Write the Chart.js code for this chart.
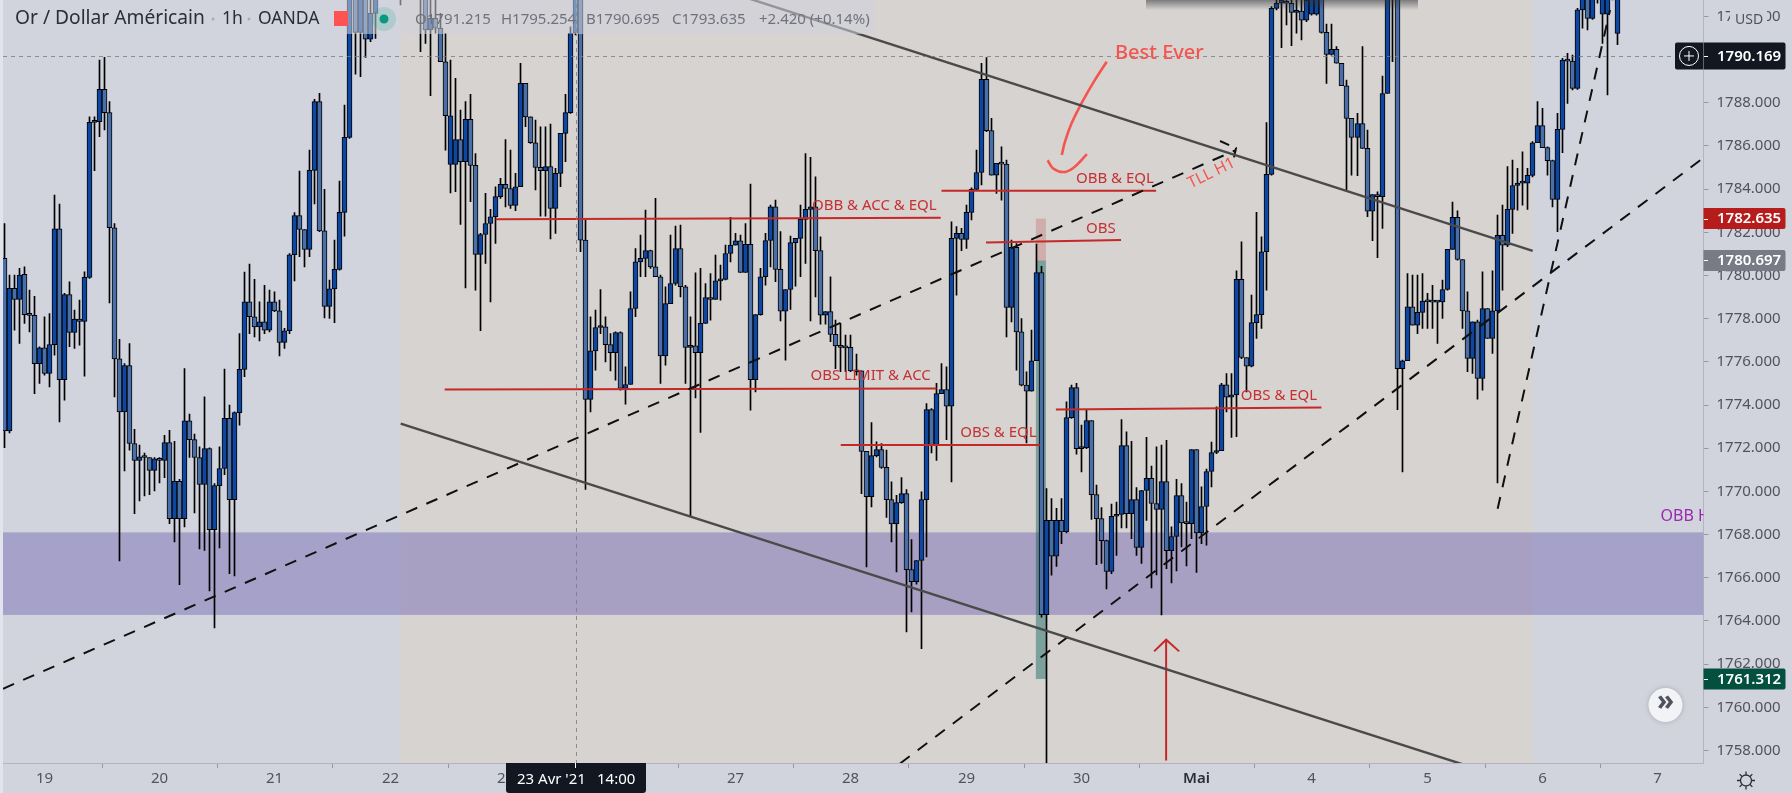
<!DOCTYPE html>
<html lang="fr">
<head>
<meta charset="utf-8">
<title>Or / Dollar Américain 1h</title>
<script src="https://cdn.jsdelivr.net/npm/chart.js@4/dist/chart.umd.min.js"></script>
<style>
  html, body { margin: 0; padding: 0; background: #d1d4dc; }
  canvas { display: block; }
</style>
</head>
<body>
<canvas id="chart" width="1792" height="793"></canvas>
<script>
const opens = [
  1780.79,1772.80,1779.40,1778.89,1780.05,1778.19,1778.15,1775.92,1776.65,1775.46,
  1776.80,1782.16,1775.18,1779.12,1777.36,1777.98,1777.87,1779.91,1787.09,1787.12,
  1788.62,1787.54,1782.21,1776.14,1773.68,1775.83,1772.22,1771.43,1771.60,1771.57,
  1770.97,1771.51,1771.44,1772.26,1768.74,1770.47,1768.74,1773.27,1772.40,1771.57,
  1770.32,1771.98,1768.23,1770.27,1771.06,1773.38,1769.62,1773.65,1775.65,1778.78,
  1778.09,1777.62,1777.85,1777.47,1778.78,1778.36,1776.90,1777.44,1780.96,1782.78,
  1782.13,1781.21,1784.87,1788.06,1782.07,1778.57,1779.38,1780.28,1782.92,1786.40,
  1793.22,1791.26,1793.07,1790.94,1792.14,1793.38,1794.30,1795.23,1794.61,1793.69,
  1793.22,1794.15,1794.92,1793.99,1793.07,1791.37,1791.91,1791.45,1789.90,1785.15,
  1785.15,1786.30,1785.27,1787.23,1785.10,1780.98,1781.90,1782.41,1782.72,1783.65,
  1784.22,1784.03,1783.25,1784.11,1788.90,1787.35,1786.15,1785.01,1784.85,1785.04,
  1783.11,1784.73,1786.58,1787.54,1791.22,1793.07,1781.64,1774.26,1776.51,1777.59,
  1777.62,1776.80,1776.43,1777.36,1774.77,1774.95,1778.47,1780.63,1780.79,1781.15,
  1780.40,1779.94,1776.28,1778.70,1779.63,1781.25,1779.48,1776.67,1776.74,1776.43,
  1777.78,1778.98,1778.89,1779.75,1779.82,1781.02,1781.41,1781.61,1780.14,1781.44,
  1775.18,1778.19,1779.94,1781.62,1783.18,1780.28,1778.35,1779.35,1781.52,1781.72,
  1782.60,1783.06,1783.18,1781.15,1778.16,1778.33,1777.27,1776.74,1776.67,1776.67,
  1775.58,1775.58,1771.85,1769.75,1771.66,1771.94,1771.11,1769.62,1768.49,1769.48,
  1769.90,1766.38,1765.82,1766.80,1769.62,1773.79,1772.12,1774.53,1774.72,1773.95,
  1781.72,1781.95,1781.67,1782.92,1783.99,1784.77,1789.08,1786.71,1784.65,1785.19,
  1785.16,1778.52,1781.30,1777.39,1774.92,1774.64,1776.05,1780.14,1764.29,1768.66,
  1767.00,1768.66,1768.12,1773.42,1774.81,1771.98,1772.02,1773.28,1769.85,1768.74,
  1767.72,1766.29,1768.85,1768.93,1772.12,1768.97,1769.62,1767.40,1770.04,1770.60,
  1769.44,1769.16,1770.46,1767.26,1767.91,1769.81,1768.54,1768.51,1771.94,1768.08,
  1769.30,1770.92,1771.80,1771.89,1774.94,1774.36,1774.47,1779.82,1776.20,1775.80,
  1777.82,1778.19,1781.10,1784.68,1792.37,1792.61,1792.68,1792.61,1792.19,1792.25,
  1791.83,1792.10,1792.10,1793.07,1791.26,1790.24,1790.47,1789.83,1788.79,1787.28,
  1786.40,1787.04,1785.89,1782.98,1783.75,1783.65,1788.43,1793.22,1793.69,1775.69,
  1776.05,1778.55,1777.70,1778.29,1778.81,1778.78,1778.77,1778.78,1779.35,1781.21,
  1782.69,1780.74,1778.36,1776.16,1777.85,1775.23,1778.47,1777.08,1778.36,1781.86,
  1781.41,1783.06,1784.17,1784.28,1784.28,1784.64,1786.15,1786.94,1785.92,1785.32,
  1783.52,1786.77,1789.98,1789.93,1788.67,1792.30,1792.91,1791.91,1793.07,1792.10,
  1792.10,1793.22,1791.215
];
const closes = [
  1772.80,1779.40,1778.89,1780.02,1778.19,1778.15,1775.92,1776.65,1775.46,1776.80,
  1782.16,1775.18,1779.12,1777.36,1777.98,1777.87,1779.91,1787.09,1787.12,1788.62,
  1787.54,1782.21,1776.14,1773.68,1775.83,1772.22,1771.43,1771.60,1771.57,1770.97,
  1771.51,1771.44,1772.26,1768.74,1770.47,1768.74,1773.27,1772.40,1771.57,1770.32,
  1771.98,1768.23,1770.27,1771.06,1773.38,1769.62,1773.65,1775.65,1778.78,1778.09,
  1777.62,1777.85,1777.47,1778.78,1778.36,1776.90,1777.44,1780.96,1782.78,1782.13,
  1781.21,1784.87,1788.06,1782.07,1778.57,1779.38,1780.28,1782.92,1786.40,1793.22,
  1791.26,1793.07,1790.94,1792.14,1793.38,1794.30,1795.23,1794.61,1793.69,1793.22,
  1794.15,1794.92,1793.99,1793.07,1791.37,1791.91,1791.45,1789.90,1787.40,1787.40,
  1786.30,1785.27,1787.23,1785.10,1780.98,1781.90,1782.41,1782.72,1783.65,1784.22,
  1784.03,1783.25,1784.11,1788.90,1787.35,1786.15,1785.01,1784.85,1785.04,1783.11,
  1784.73,1786.58,1787.54,1791.22,1793.07,1781.64,1774.26,1776.51,1777.59,1777.62,
  1776.80,1776.43,1777.36,1774.77,1774.95,1778.47,1780.63,1780.79,1781.15,1780.40,
  1779.94,1776.28,1778.70,1779.63,1781.25,1779.48,1776.67,1776.74,1776.43,1777.78,
  1778.98,1778.89,1779.75,1779.82,1781.02,1781.41,1781.61,1780.14,1781.44,1775.18,
  1778.19,1779.94,1781.62,1783.18,1780.28,1778.35,1779.35,1781.52,1781.72,1782.60,
  1783.06,1783.18,1781.15,1778.16,1778.33,1777.27,1776.74,1776.67,1776.65,1775.58,
  1775.54,1771.85,1769.75,1771.66,1771.94,1771.11,1769.62,1768.49,1769.48,1769.90,
  1766.38,1765.82,1766.80,1769.62,1773.79,1772.12,1774.53,1774.72,1773.95,1781.72,
  1781.95,1781.67,1782.92,1783.99,1784.77,1789.08,1786.71,1784.65,1785.19,1785.16,
  1778.52,1781.30,1777.39,1774.92,1774.64,1776.05,1780.14,1764.29,1768.66,1767.00,
  1768.66,1768.12,1773.42,1774.81,1771.98,1772.02,1773.28,1769.85,1768.74,1767.72,
  1766.29,1768.85,1768.93,1772.12,1768.97,1769.62,1767.40,1770.04,1770.60,1769.44,
  1769.16,1770.46,1767.26,1767.91,1769.81,1768.54,1768.51,1771.94,1768.08,1769.30,
  1770.92,1771.80,1771.89,1774.94,1774.36,1774.47,1779.82,1776.20,1775.80,1777.82,
  1778.19,1781.10,1784.68,1792.37,1792.61,1792.76,1792.61,1792.19,1792.25,1791.83,
  1792.76,1792.91,1793.07,1791.26,1790.24,1790.47,1789.83,1788.79,1787.28,1786.40,
  1787.04,1785.89,1782.98,1783.75,1783.65,1788.43,1793.22,1793.69,1775.69,1776.05,
  1778.55,1777.70,1778.29,1778.81,1778.78,1778.77,1778.78,1779.35,1781.21,1782.69,
  1780.74,1778.36,1776.16,1777.85,1775.23,1778.47,1777.08,1778.36,1781.86,1781.41,
  1783.06,1784.17,1784.28,1784.30,1784.64,1786.15,1786.94,1785.92,1785.32,1783.52,
  1786.77,1789.98,1789.93,1788.67,1792.30,1792.91,1791.91,1793.07,1793.38,1793.22,
  1793.22,1793.53,1793.635
];
const highs = [
  1782.41,1780.02,1780.02,1780.33,1780.40,1779.32,1779.04,1776.70,1778.09,1778.24,
  1783.72,1783.31,1779.17,1779.71,1778.40,1778.86,1780.17,1787.35,1787.35,1789.98,
  1790.10,1788.05,1782.41,1777.04,1775.92,1776.85,1772.88,1772.14,1771.78,1771.57,
  1771.57,1771.57,1772.60,1772.83,1772.32,1770.56,1775.69,1773.58,1772.65,1772.06,
  1774.38,1772.02,1770.36,1772.06,1775.66,1774.00,1773.68,1777.31,1780.16,1780.53,
  1779.82,1778.78,1779.55,1779.32,1779.24,1778.86,1777.55,1781.02,1782.91,1784.84,
  1782.13,1785.81,1788.16,1788.44,1783.99,1779.79,1781.64,1784.37,1787.89,1793.38,
  1793.69,1793.38,1793.53,1792.76,1793.69,1795.08,1795.85,1796.16,1795.54,1794.30,
  1794.77,1795.54,1795.69,1794.61,1793.69,1793.07,1792.91,1792.14,1791.22,1789.98,
  1789.13,1787.66,1788.05,1788.39,1785.65,1781.95,1783.80,1783.06,1784.11,1784.50,
  1786.30,1785.81,1784.73,1789.83,1788.90,1787.35,1787.20,1786.89,1786.89,1787.01,
  1784.96,1786.58,1788.39,1791.52,1793.69,1793.69,1782.57,1778.09,1778.40,1779.35,
  1778.09,1777.31,1777.39,1777.39,1775.77,1779.24,1781.25,1781.87,1783.03,1781.18,
  1783.57,1780.02,1779.48,1781.87,1782.29,1782.33,1779.55,1778.09,1780.12,1780.33,
  1779.63,1780.09,1780.94,1780.48,1781.41,1782.69,1781.95,1781.87,1782.41,1784.23,
  1778.19,1780.33,1781.95,1783.26,1783.49,1782.03,1779.35,1781.82,1781.72,1783.26,
  1785.65,1785.47,1784.57,1781.79,1778.33,1779.94,1777.93,1777.78,1777.24,1777.24,
  1776.36,1775.58,1771.85,1773.19,1772.29,1772.22,1771.91,1770.44,1769.82,1770.64,
  1770.08,1767.77,1766.80,1769.98,1774.07,1773.84,1775.00,1775.92,1775.77,1782.49,
  1782.26,1782.18,1783.26,1784.06,1785.81,1789.83,1790.09,1787.28,1785.19,1785.96,
  1785.35,1781.64,1781.48,1778.01,1775.54,1777.47,1781.45,1780.43,1770.13,1769.67,
  1769.21,1769.67,1774.15,1774.92,1775.00,1773.07,1773.76,1773.28,1770.29,1769.25,
  1767.74,1769.41,1769.51,1773.33,1772.76,1772.32,1770.18,1770.05,1772.50,1771.17,
  1772.06,1772.14,1772.37,1768.36,1770.56,1770.36,1769.51,1771.94,1771.94,1770.21,
  1771.03,1772.28,1773.92,1775.00,1775.46,1775.46,1780.22,1781.56,1776.20,1779.09,
  1782.92,1781.79,1787.08,1792.45,1792.91,1793.22,1793.07,1792.91,1792.76,1792.76,
  1793.07,1793.22,1793.38,1793.38,1791.65,1791.65,1790.60,1789.83,1789.05,1787.28,
  1787.51,1790.60,1786.74,1783.75,1783.88,1789.24,1793.69,1794.61,1794.61,1776.08,
  1780.09,1780.02,1780.02,1780.09,1779.17,1779.55,1778.78,1779.79,1781.21,1783.40,
  1783.00,1780.74,1779.24,1777.85,1777.93,1780.17,1778.47,1780.22,1782.80,1783.26,
  1785.04,1785.35,1784.96,1785.73,1784.96,1786.20,1788.05,1787.74,1785.96,1785.35,
  1787.51,1790.06,1790.29,1790.21,1792.37,1793.38,1793.38,1793.38,1794.00,1793.69,
  1793.69,1794.00,1795.254
];
const lows = [
  1772.02,1772.71,1777.47,1776.85,1777.78,1777.39,1774.53,1775.00,1775.38,1774.84,
  1776.31,1773.22,1774.22,1776.70,1776.62,1776.77,1775.34,1779.86,1784.85,1786.43,
  1786.74,1778.73,1774.38,1766.78,1770.95,1771.91,1768.97,1769.56,1769.79,1769.85,
  1770.02,1770.39,1770.63,1768.51,1767.66,1765.68,1768.36,1771.57,1769.00,1767.34,
  1767.27,1765.39,1763.68,1767.38,1770.78,1766.19,1766.08,1773.07,1775.31,1777.31,
  1777.16,1776.97,1777.31,1777.39,1778.32,1776.28,1776.62,1777.31,1779.75,1780.87,
  1780.40,1780.87,1783.31,1782.03,1778.04,1778.01,1777.81,1780.25,1781.82,1786.35,
  1789.33,1789.21,1790.10,1790.83,1790.98,1792.91,1793.69,1794.15,1793.38,1792.53,
  1792.91,1793.84,1793.53,1790.37,1790.75,1788.33,1791.22,1789.90,1785.81,1783.83,
  1783.88,1782.37,1779.43,1783.42,1779.32,1777.44,1780.56,1778.78,1781.48,1783.57,
  1783.18,1783.11,1783.00,1784.11,1786.89,1786.12,1783.96,1782.75,1782.75,1781.69,
  1781.95,1784.11,1785.27,1787.51,1791.14,1781.10,1770.09,1773.68,1775.62,1777.31,
  1776.00,1775.58,1775.15,1774.69,1774.04,1774.95,1778.09,1779.94,1779.94,1780.33,
  1779.94,1775.00,1775.85,1778.70,1779.55,1779.01,1775.00,1768.85,1774.33,1772.73,
  1777.78,1777.93,1778.89,1778.86,1779.79,1780.63,1781.41,1780.14,1780.14,1773.76,
  1774.61,1778.16,1779.55,1780.40,1779.71,1777.90,1776.08,1778.43,1779.51,1779.94,
  1780.56,1777.90,1779.01,1777.75,1777.75,1776.93,1775.69,1775.54,1775.54,1775.54,
  1775.38,1769.90,1766.50,1769.28,1771.60,1771.06,1768.79,1767.66,1766.27,1769.44,
  1763.49,1764.42,1765.70,1762.72,1766.97,1771.78,1771.44,1774.53,1772.40,1770.44,
  1779.09,1781.15,1781.25,1782.57,1783.96,1784.19,1786.66,1784.65,1783.80,1783.49,
  1777.16,1777.85,1775.62,1774.89,1772.25,1774.64,1776.05,1764.18,1757.42,1766.12,
  1766.53,1767.58,1768.08,1773.38,1771.72,1770.90,1771.98,1768.70,1766.61,1766.66,
  1765.48,1766.19,1767.04,1768.31,1768.31,1767.81,1767.04,1766.66,1768.66,1765.53,
  1766.13,1764.28,1766.42,1765.76,1766.32,1767.43,1766.55,1767.81,1766.25,1767.58,
  1767.51,1770.21,1771.75,1771.89,1773.68,1772.50,1772.53,1776.15,1774.61,1775.77,
  1777.08,1777.55,1779.32,1784.65,1792.30,1790.55,1791.60,1790.64,1791.22,1790.91,
  1791.76,1792.06,1792.06,1791.22,1788.90,1790.21,1789.83,1788.79,1783.96,1784.65,
  1784.62,1785.89,1782.72,1781.61,1780.82,1782.18,1788.43,1789.90,1773.79,1770.90,
  1776.05,1777.70,1777.31,1777.55,1777.55,1777.55,1776.85,1778.01,1779.32,1781.21,
  1780.71,1777.55,1775.54,1775.46,1774.27,1774.69,1777.08,1776.39,1770.39,1779.32,
  1781.33,1781.95,1783.03,1783.26,1783.06,1784.57,1786.15,1785.92,1784.65,1783.18,
  1782.03,1785.69,1787.97,1788.59,1788.62,1791.45,1791.37,1791.86,1792.61,1790.75,
  1788.36,1792.76,1790.695
];

// x axis: bar index of each day label
const dayTicks = [8, 31, 54, 77, 100, 123, 146, 169, 192, 215, 238, 261, 284, 307, 330];
const dayLabels = ['19', '20', '21', '22', '23', '26', '27', '28', '29', '30', 'Mai', '4', '5', '6', '7'];

// drawn trend lines, [bar index, price]
const channelTop = [[79.12, 1798.02], [305.07, 1781.14]];
const channelBottom = [[79.12, 1773.14], [305.07, 1756.32]];
const trendLong = [[-0.26, 1760.86], [245.85, 1785.81]];
const trendLongHook = [[242.66, 1786.23], [245.85, 1785.90], [245.25, 1785.25]];
const trendMid = [[178.8, 1757.40], [338.5, 1785.34]];
const trendSteep = [[298.07, 1769.2], [320.5, 1792.30]];
const levelObbAcc = [[98.07, 1782.60], [186.9, 1782.67]];
const levelObsLimit = [[87.9, 1774.72], [186, 1774.76]];
const levelObbEql = [[187, 1783.92], [229.9, 1783.92]];
const levelObs = [[195.95, 1781.53], [222.9, 1781.64]];
const levelObsEqlLow = [[166.95, 1772.15], [206.7, 1772.15]];
const levelObsEqlHigh = [[209.9, 1773.79], [262.9, 1773.89]];
const arrowShaft = [[231.9, 1757.54], [231.9, 1763.13]];
const arrowHead = [[229.5, 1762.59], [231.9, 1763.13], [234.5, 1762.59]];
const brushStem = [[220.04, 1789.90], [217.3, 1788.91], [215.05, 1787.99], [213.05, 1787.06], [211.7, 1786.19], [211.07, 1785.58]];
const brushSmile = [[208.26, 1785.34], [209.3, 1784.97], [211.3, 1784.79], [213.3, 1784.97], [216.1, 1785.62]];

// zones
const beigeZone = { from: 79.12, to: 305.07 };
const purpleZone = { low: 1764.28, high: 1768.1 };
const positionZone = { from: 205.9, to: 207.9, top: 1782.635, entry: 1780.697, bottom: 1761.312 };

// text labels: [text, bar index, price]
const redLabels = [
  ['OBB & ACC & EQL', 161.2, 1783.21],
  ['OBS LIMIT & ACC', 161, 1775.34],
  ['OBS & EQL', 190.8, 1772.71],
  ['OBS & EQL', 246.8, 1774.41],
  ['OBB & EQL', 213.9, 1784.46],
  ['OBS', 215.9, 1782.17]
];

const crossBar = 114.16;
const crossPrice = 1790.169;

const FONT = '"Noto Sans", sans-serif';
const UP = '#0d47a1';
const DOWN = '#4a6fa8';
const LEVEL = '#c62828';
const CORAL = '#f4554f';

function points(list) {
  return list.map(p => ({ x: p[0], y: p[1] }));
}

function lineSet(list, color, width, dash, tension) {
  return {
    type: 'line',
    data: points(list),
    borderColor: color,
    borderWidth: width,
    borderDash: dash || [],
    tension: tension || 0,
    pointRadius: 0,
    fill: false,
    order: 0
  };
}

const bgPlugin = {
  id: 'bgPlugin',
  beforeDraw(chart) {
    const c = chart.ctx;
    c.save();
    c.fillStyle = '#d1d4dc';
    c.fillRect(0, 0, chart.width, chart.height);
    c.fillStyle = '#e1e4ec';
    c.fillRect(0, 0, 3, chart.height);
    c.restore();
  },
  beforeDatasetsDraw(chart) {
    const c = chart.ctx;
    const { x, y } = chart.scales;
    const a = chart.chartArea;
    c.save();
    c.beginPath();
    c.rect(a.left, a.top, a.right - a.left, a.bottom - a.top);
    c.clip();
    const bx = x.getPixelForValue(beigeZone.from);
    c.fillStyle = 'rgb(214, 211, 208)';
    c.fillRect(bx, a.top, x.getPixelForValue(beigeZone.to) - bx, a.bottom - a.top);
    const py = y.getPixelForValue(purpleZone.high);
    c.fillStyle = 'rgba(121, 110, 180, 0.5)';
    c.fillRect(a.left, py, a.right - a.left, y.getPixelForValue(purpleZone.low) - py);
    const gx = x.getPixelForValue(positionZone.from);
    const gw = x.getPixelForValue(positionZone.to) - gx;
    const t = y.getPixelForValue(positionZone.top);
    const e = y.getPixelForValue(positionZone.entry);
    const b = y.getPixelForValue(positionZone.bottom);
    c.fillStyle = 'rgba(190, 60, 60, 0.25)';
    c.fillRect(gx, t, gw, e - t);
    c.fillStyle = 'rgba(0, 90, 80, 0.42)';
    c.fillRect(gx, e, gw, b - e);
    c.restore();
  },
  afterDatasetsDraw(chart) {
    const c = chart.ctx;
    const { x, y } = chart.scales;
    const a = chart.chartArea;
    c.save();
    c.beginPath();
    c.rect(a.left, a.top, a.right - a.left, a.bottom - a.top);
    c.clip();

    // crosshair
    c.strokeStyle = 'rgba(120, 123, 134, 0.8)';
    c.lineWidth = 1;
    c.setLineDash([4, 4]);
    const cy = Math.round(y.getPixelForValue(crossPrice)) + 0.5;
    const cx = Math.round(x.getPixelForValue(crossBar)) + 0.5;
    c.beginPath();
    c.moveTo(a.left, cy);
    c.lineTo(a.right, cy);
    c.moveTo(cx, a.top);
    c.lineTo(cx, a.bottom);
    c.stroke();
    c.setLineDash([]);

    // drawing labels
    c.textBaseline = 'middle';
    c.textAlign = 'left';
    c.fillStyle = '#c62f33';
    c.font = '15px ' + FONT;
    redLabels.forEach(l => {
      c.fillText(l[0], x.getPixelForValue(l[1]), y.getPixelForValue(l[2]));
    });

    c.fillStyle = CORAL;
    c.font = '500 20px ' + FONT;
    c.fillText('Best Ever', x.getPixelForValue(221.7), y.getPixelForValue(1790.3));

    c.save();
    c.translate(x.getPixelForValue(241), y.getPixelForValue(1784.74));
    c.rotate(-26 * Math.PI / 180);
    c.textAlign = 'center';
    c.font = '16px ' + FONT;
    c.fillText('TLL H1', 0, 0);
    c.restore();

    c.fillStyle = '#9c27b0';
    c.font = '16px ' + FONT;
    c.fillText('OBB H', x.getPixelForValue(330.6), y.getPixelForValue(1768.82));
    c.restore();
  },
  afterDraw(chart) {
    const c = chart.ctx;
    const { y } = chart.scales;
    c.save();
    c.textBaseline = 'middle';
    c.textAlign = 'left';

    // legend strip, lightens what is under it
    c.fillStyle = 'rgba(209, 212, 220, 0.55)';
    c.fillRect(345, 0, 530, 34);
    const grad = c.createLinearGradient(0, 0, 0, 10);
    grad.addColorStop(0, 'rgba(50, 52, 60, 0.55)');
    grad.addColorStop(1, 'rgba(50, 52, 60, 0)');
    c.fillStyle = grad;
    c.fillRect(1146, 0, 272, 10);

    c.fillStyle = '#2a2e39';
    c.font = '19.2px ' + FONT;
    c.fillText('Or / Dollar Américain', 15, 19);
    c.font = '17.5px ' + FONT;
    c.fillText('1h', 222, 19);
    c.fillText('OANDA', 258, 19);
    c.fillStyle = '#a9acb6';
    c.beginPath(); c.arc(213, 19, 1.5, 0, 7); c.arc(249, 19, 1.5, 0, 7); c.fill();

    c.fillStyle = '#ff5252';
    c.fillRect(334, 11, 14, 15);
    c.fillStyle = 'rgba(8, 153, 129, 0.16)';
    c.beginPath(); c.arc(384, 19, 12, 0, 7); c.fill();
    c.fillStyle = '#089981';
    c.beginPath(); c.arc(384, 19, 4.5, 0, 7); c.fill();

    c.fillStyle = '#6f727e';
    c.font = '15px ' + FONT;
    c.fillText('O1791.215', 415, 20);
    c.fillText('H1795.254', 501, 20);
    c.fillText('B1790.695', 586, 20);
    c.fillText('C1793.635', 672, 20);
    c.fillText('+2.420 (+0.14%)', 759, 20);

    // USD unit over the top tick label
    c.fillStyle = '#d1d4dc';
    c.fillRect(1730, 8, 37, 24);
    c.fillStyle = '#50535e';
    c.font = '14px ' + FONT;
    c.fillText('USD', 1735, 20);

    // price tags
    const tags = [
      [1782.635, '#b71c1c', 21],
      [1780.697, '#787b86', 21],
      [1761.312, '#04503f', 21],
      [crossPrice, '#131722', 27]
    ];
    tags.forEach(t => {
      const py = y.getPixelForValue(t[0]);
      c.fillStyle = t[1];
      c.beginPath();
      c.roundRect(1703.5, py - t[2] / 2, 82, t[2], [0, 2, 2, 0]);
      c.fill();
      c.fillStyle = '#ffffff';
      c.fillRect(1704, Math.round(py), 4, 1);
      c.font = '600 15px ' + FONT;
      c.fillText(t[0].toFixed(3), 1717, py + 0.5);
    });

    // plus button beside the crosshair price
    const py = y.getPixelForValue(crossPrice);
    c.fillStyle = '#131722';
    c.beginPath();
    c.roundRect(1675, py - 13.5, 28, 27, [2, 0, 0, 2]);
    c.fill();
    c.strokeStyle = '#ffffff';
    c.lineWidth = 1;
    c.beginPath();
    c.arc(1689, py, 9.5, 0, 7);
    c.moveTo(1684, py);
    c.lineTo(1694, py);
    c.moveTo(1689, py - 5);
    c.lineTo(1689, py + 5);
    c.stroke();

    // date box on the time axis
    c.fillStyle = '#131722';
    c.beginPath();
    c.roundRect(506, 763, 140, 30, [0, 0, 3, 3]);
    c.fill();
    c.fillStyle = '#ffffff';
    c.fillRect(575, 763, 1, 5);
    c.font = '15px ' + FONT;
    c.fillText('23 Avr \'21', 517, 780);
    c.fillText('14:00', 597, 780);

    // scroll button
    c.shadowColor = 'rgba(0, 0, 0, 0.2)';
    c.shadowBlur = 5;
    c.fillStyle = '#f2f3f6';
    c.beginPath();
    c.arc(1665.5, 705, 17, 0, 7);
    c.fill();
    c.shadowBlur = 0;
    c.fillStyle = '#50535e';
    c.font = '700 28px ' + FONT;
    c.textAlign = 'center';
    c.fillText('»', 1665.5, 702);

    // settings icon
    c.strokeStyle = '#2a2e39';
    c.lineWidth = 1.3;
    c.beginPath();
    c.arc(1746, 780.5, 5.5, 0, 7);
    for (let k = 0; k < 8; k++) {
      const ang = k * Math.PI / 4;
      c.moveTo(1746 + Math.cos(ang) * 6, 780.5 + Math.sin(ang) * 6);
      c.lineTo(1746 + Math.cos(ang) * 9, 780.5 + Math.sin(ang) * 9);
    }
    c.stroke();
    c.restore();
  }
};

new Chart(document.getElementById('chart'), {
  data: {
    datasets: [
      lineSet(channelTop, '#4a4a4a', 2.4),
      lineSet(channelBottom, '#4a4a4a', 2.4),
      lineSet(trendLong, '#101010', 2, [12, 10]),
      lineSet(trendLongHook, '#101010', 2, [10, 7]),
      lineSet(trendMid, '#101010', 2, [12, 10]),
      lineSet(trendSteep, '#101010', 2, [12, 10]),
      lineSet(levelObbAcc, LEVEL, 2),
      lineSet(levelObsLimit, LEVEL, 2),
      lineSet(levelObbEql, LEVEL, 2),
      lineSet(levelObs, LEVEL, 2),
      lineSet(levelObsEqlLow, LEVEL, 2),
      lineSet(levelObsEqlHigh, LEVEL, 2),
      lineSet(arrowShaft, LEVEL, 2),
      lineSet(arrowHead, LEVEL, 2),
      lineSet(brushStem, CORAL, 2.6, [], 0.4),
      lineSet(brushSmile, CORAL, 2.6, [], 0.4),
      {
        type: 'bar',
        data: opens.map((o, i) => ({ x: i, y: [o, closes[i]] })),
        backgroundColor: opens.map((o, i) => closes[i] >= o ? UP : DOWN),
        borderColor: '#000000',
        borderWidth: 1,
        borderSkipped: false,
        barThickness: 5,
        minBarLength: 2,
        grouped: false,
        order: 1
      },
      {
        type: 'bar',
        data: lows.map((l, i) => ({ x: i, y: [l, highs[i]] })),
        backgroundColor: '#000000',
        barThickness: 1,
        grouped: false,
        order: 2
      }
    ]
  },
  options: {
    responsive: false,
    animation: false,
    events: [],
    layout: { padding: { left: 3, right: 0, top: 0, bottom: 0 } },
    plugins: { legend: { display: false }, tooltip: { enabled: false } },
    scales: {
      x: {
        type: 'linear',
        min: -0.26,
        max: 339.16,
        offset: false,
        grid: { display: true, drawOnChartArea: false, tickLength: 5, tickColor: '#9598a1' },
        border: { color: '#b2b5be' },
        afterDataLimits(scale) {
          // whole bars land on pixel centres so wicks and borders stay sharp
          if (!scale.snapped) {
            const base = scale.getPixelForValue.bind(scale);
            scale.getPixelForValue = (v, i) => Number.isInteger(v) ? Math.round(base(v, i) - 0.5) + 0.5 : base(v, i);
            scale.snapped = true;
          }
        },
        afterBuildTicks(scale) {
          scale.ticks = dayTicks.map(v => ({ value: v }));
        },
        afterFit(scale) {
          scale.height = 30;
          scale.paddingLeft = 0;
          scale.paddingRight = 0;
        },
        ticks: {
          autoSkip: false,
          maxRotation: 0,
          padding: 2,
          color: ctx => ctx.tick && ctx.tick.value === 238 ? '#2a2e39' : '#50535e',
          font: ctx => ({
            family: FONT,
            size: 15,
            weight: ctx.tick && ctx.tick.value === 238 ? '600' : '400'
          }),
          callback: v => dayLabels[dayTicks.indexOf(v)]
        }
      },
      y: {
        type: 'linear',
        position: 'right',
        min: 1757.42,
        max: 1792.76,
        grid: { display: true, drawOnChartArea: false, tickLength: 5, tickColor: '#9598a1' },
        border: { color: '#b2b5be' },
        afterFit(scale) {
          scale.width = 88.5;
          scale.paddingTop = 0;
          scale.paddingBottom = 0;
        },
        ticks: {
          stepSize: 2,
          includeBounds: false,
          padding: 8,
          color: '#50535e',
          font: { family: FONT, size: 15 },
          callback: v => v.toFixed(3)
        }
      }
    }
  },
  plugins: [bgPlugin]
});
</script>
</body>
</html>
